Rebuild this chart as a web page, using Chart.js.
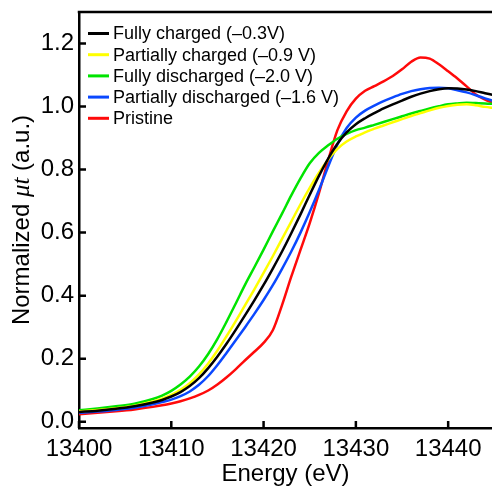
<!DOCTYPE html>
<html>
<head>
<meta charset="utf-8">
<script src="https://cdn.jsdelivr.net/npm/chart.js@4"></script>
<style>
  html, body { margin: 0; padding: 0; background: #fff; }
</style>
</head>
<body>
<canvas id="xanesChart" width="492" height="491"></canvas>
<script>
// energies (eV) shared by all spectra
const energies = [13400, 13402, 13404, 13406, 13408, 13409, 13410, 13411, 13412, 13413, 13414, 13415, 13416, 13417, 13418, 13419, 13420, 13421, 13422, 13423, 13424, 13425, 13426, 13427, 13428, 13429, 13430, 13431, 13432, 13433, 13434, 13435, 13436, 13437, 13438, 13439, 13440, 13441, 13442, 13443, 13444, 13445];

const fullyCharged = [0.031, 0.035, 0.041, 0.049, 0.061, 0.069, 0.080, 0.094, 0.113, 0.138, 0.170, 0.207, 0.248, 0.292, 0.338, 0.385, 0.434, 0.486, 0.540, 0.598, 0.658, 0.720, 0.780, 0.835, 0.882, 0.918, 0.944, 0.963, 0.979, 0.994, 1.007, 1.019, 1.031, 1.041, 1.049, 1.055, 1.058, 1.057, 1.054, 1.049, 1.042, 1.036];
const partCharged = [0.033, 0.037, 0.043, 0.051, 0.064, 0.073, 0.085, 0.101, 0.122, 0.150, 0.185, 0.226, 0.272, 0.320, 0.370, 0.420, 0.472, 0.525, 0.580, 0.635, 0.690, 0.742, 0.790, 0.832, 0.866, 0.889, 0.905, 0.918, 0.930, 0.940, 0.950, 0.960, 0.970, 0.979, 0.988, 0.996, 1.002, 1.006, 1.007, 1.004, 0.999, 0.995];
const fullyDischarged = [0.036, 0.042, 0.049, 0.057, 0.072, 0.083, 0.098, 0.118, 0.143, 0.175, 0.215, 0.263, 0.318, 0.376, 0.435, 0.490, 0.546, 0.604, 0.660, 0.718, 0.772, 0.820, 0.853, 0.877, 0.898, 0.913, 0.925, 0.933, 0.942, 0.951, 0.960, 0.969, 0.978, 0.986, 0.994, 1.001, 1.007, 1.010, 1.012, 1.011, 1.010, 1.008];
const partDischarged = [0.028, 0.032, 0.037, 0.044, 0.055, 0.062, 0.070, 0.081, 0.096, 0.117, 0.145, 0.180, 0.219, 0.259, 0.300, 0.342, 0.386, 0.433, 0.485, 0.540, 0.600, 0.665, 0.735, 0.810, 0.880, 0.932, 0.965, 0.987, 1.003, 1.017, 1.029, 1.040, 1.049, 1.055, 1.059, 1.060, 1.058, 1.052, 1.045, 1.036, 1.026, 1.017];
const pristine = [0.024, 0.028, 0.033, 0.039, 0.047, 0.052, 0.058, 0.065, 0.074, 0.085, 0.099, 0.118, 0.141, 0.167, 0.195, 0.222, 0.250, 0.290, 0.370, 0.460, 0.545, 0.630, 0.725, 0.830, 0.925, 0.985, 1.025, 1.050, 1.065, 1.080, 1.097, 1.118, 1.142, 1.156, 1.152, 1.134, 1.112, 1.089, 1.064, 1.038, 1.022, 1.010];

const seriesNames = ['Fully charged (\u20130.3V)', 'Partially charged (\u20130.9 V)', 'Fully discharged (\u20132.0 V)', 'Partially discharged (\u20131.6 V)', 'Pristine'];
const seriesValues = [fullyCharged, partCharged, fullyDischarged, partDischarged, pristine];
const seriesColors = ['#000000', '#ffff00', '#00e400', '#0a48ff', '#ff0a0a'];

const xTicks = [13400, 13410, 13420, 13430, 13440];
const yTicks = [0, 0.2, 0.4, 0.6, 0.8, 1.0, 1.2];

const sans = '"Liberation Sans", Arial, sans-serif';

// frame top line + inward tick marks
const framePlugin = {
    id: 'frame',
    afterDatasetsDraw(chart) {
        const ctx = chart.ctx;
        const a = chart.chartArea;
        const xs = chart.scales.x, ys = chart.scales.y;
        ctx.save();
        ctx.strokeStyle = '#000';
        ctx.lineWidth = 2.5;
        ctx.beginPath();
        ctx.moveTo(a.left - 1.25, a.top);
        ctx.lineTo(a.right, a.top);
        xs.ticks.forEach(t => {
            const px = xs.getPixelForValue(t.value);
            ctx.moveTo(px, a.bottom);
            ctx.lineTo(px, a.bottom - 7);
        });
        ys.ticks.forEach(t => {
            const py = ys.getPixelForValue(t.value);
            ctx.moveTo(a.left, py);
            ctx.lineTo(a.left + 7, py);
        });
        ctx.stroke();
        ctx.restore();
    }
};

// legend in upper-left of plot
const legendPlugin = {
    id: 'innerLegend',
    afterDraw(chart) {
        const ctx = chart.ctx;
        ctx.save();
        ctx.font = '18px ' + sans;
        ctx.textBaseline = 'middle';
        ctx.fillStyle = '#000';
        chart.data.datasets.forEach((ds, i) => {
            const yy = 33.5 + i * 21.2;
            ctx.strokeStyle = ds.borderColor;
            ctx.lineWidth = 3;
            ctx.beginPath();
            ctx.moveTo(88, yy);
            ctx.lineTo(109, yy);
            ctx.stroke();
            ctx.fillText(ds.label, 113, yy + 1);
        });
        ctx.restore();
    }
};

// y title with italic mu-t
const yTitlePlugin = {
    id: 'yTitle',
    afterDraw(chart) {
        const ctx = chart.ctx;
        const a = chart.chartArea;
        const parts = [
            ['Normalized ', '24px ' + sans],
            ['\u03bct', 'italic 25px "Liberation Serif", serif'],
            [' (a.u.)', '24px ' + sans]
        ];
        ctx.save();
        let total = 0;
        parts.forEach(p => { ctx.font = p[1]; total += ctx.measureText(p[0]).width; });
        ctx.translate(29, (a.top + a.bottom) / 2);
        ctx.rotate(-Math.PI / 2);
        ctx.fillStyle = '#000';
        ctx.textBaseline = 'alphabetic';
        let cx = -total / 2;
        parts.forEach(p => {
            ctx.font = p[1];
            ctx.fillText(p[0], cx, 0);
            cx += ctx.measureText(p[0]).width;
        });
        ctx.restore();
    }
};

const datasets = seriesNames.map((name, i) => ({
    label: name,
    data: energies.map((e, j) => ({ x: e, y: seriesValues[i][j] })),
    borderColor: seriesColors[i],
    backgroundColor: seriesColors[i],
    fill: false
}));

new Chart(document.getElementById('xanesChart').getContext('2d'), {
    type: 'line',
    data: { datasets: datasets },
    options: {
        responsive: false,
        animation: false,
        layout: { padding: { top: 12, right: 0, left: 0, bottom: 0 } },
        elements: {
            point: { radius: 0 },
            line: { borderWidth: 2.5, cubicInterpolationMode: 'monotone' }
        },
        plugins: {
            legend: { display: false },
            tooltip: { enabled: false }
        },
        scales: {
            x: {
                type: 'linear',
                min: 13400,
                max: 13444.75,
                grid: { display: false, drawTicks: false },
                border: { display: true, color: '#000', width: 2.5 },
                afterBuildTicks: s => { s.ticks = xTicks.map(v => ({ value: v })); },
                afterFit: s => { s.height = 63; s.paddingLeft = 0; s.paddingRight = 0; },
                ticks: {
                    color: '#000',
                    font: { family: sans, size: 24 },
                    padding: 7,
                    maxRotation: 0,
                    autoSkip: false,
                    callback: v => String(v)
                },
                title: {
                    display: true,
                    text: 'Energy (eV)',
                    color: '#000',
                    font: { family: sans, size: 24 },
                    padding: { top: 0, bottom: 2 }
                }
            },
            y: {
                min: -0.02,
                max: 1.3,
                grid: { display: false, drawTicks: false },
                border: { display: true, color: '#000', width: 2.5 },
                afterBuildTicks: s => { s.ticks = yTicks.map(v => ({ value: v })); },
                afterFit: s => { s.width = 79; s.paddingTop = 0; s.paddingBottom = 0; },
                ticks: {
                    color: '#000',
                    font: { family: sans, size: 24 },
                    padding: 5,
                    callback: v => v.toFixed(1)
                }
            }
        }
    },
    plugins: [framePlugin, legendPlugin, yTitlePlugin]
});
</script>
</body>
</html>
